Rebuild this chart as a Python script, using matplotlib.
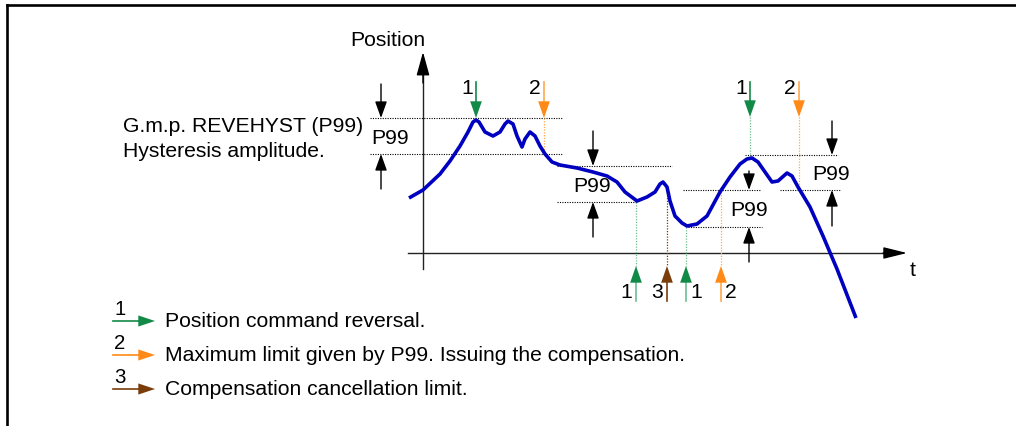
import matplotlib
matplotlib.use('Agg')
import matplotlib.pyplot as plt

plt.rcParams['font.family'] = ['Liberation Sans', 'DejaVu Sans']

# position curve (t, position) in chart units, origin at axis crossing
curve_t = [-1.4, 0.0, 1.7, 2.7, 3.7, 4.5, 5.0, 5.3, 5.6, 6.2, 7.0, 7.7, 8.2, 8.5,
           9.0, 9.4, 9.9, 10.2, 10.7, 11.2, 11.7, 12.2, 12.9, 13.7, 15.4, 17.0,
           18.4, 19.4, 20.2, 21.4, 22.4, 23.2, 23.7, 24.0, 24.4, 24.7, 25.2, 25.9,
           26.4, 27.4, 28.4, 29.7, 30.7, 31.7, 32.4, 32.9, 33.5, 34.2, 34.9, 35.5,
           36.4, 36.9, 37.5, 38.7, 40.0, 41.4, 43.3]
curve_p = [5.5, 6.3, 7.9, 9.2, 10.7, 12.1, 13.1, 13.3, 13.1, 12.1, 11.7, 12.1, 12.9, 13.2,
           12.9, 11.7, 10.6, 11.4, 12.1, 11.7, 10.7, 9.9, 9.1, 8.8, 8.5, 8.1,
           7.7, 7.1, 6.1, 5.2, 5.6, 6.1, 6.9, 7.1, 6.6, 5.2, 3.7, 3.0,
           2.7, 2.9, 3.7, 6.1, 7.6, 8.9, 9.4, 9.5, 9.1, 8.1, 7.1, 7.2,
           8.0, 7.7, 6.6, 4.6, 1.7, -1.6, -6.5]

# P99 bands: x of dimension arrow, upper level, lower level, line span
band_x = [-4.2, 17.0, 32.6, 40.9]
band_hi = [13.5, 8.7, 6.3, 9.8]
band_lo = [9.9, 5.1, 2.6, 6.3]
band_hi_span = [(-5.3, 14.0), (13.4, 24.9), (26.0, 33.7), (32.2, 41.5)]
band_lo_span = [(-5.3, 14.0), (13.4, 21.4), (26.5, 33.9), (35.7, 41.7)]
band_top = [16.9, 12.2, 8.2, 13.2]
band_bot = [6.4, 1.6, -0.9, 2.7]
band_label_xy = [(-3.3, 11.6), (16.9, 6.7), (32.6, 4.3), (40.8, 7.9)]

# event markers: t, kind, label, curve level where the dotted line stops
top_t = [5.3, 12.1, 32.7, 37.6]
top_kind = ['1', '2', '1', '2']
top_level = [13.5, 10.1, 9.5, 6.6]
bot_t = [21.3, 24.4, 26.3, 29.8]
bot_kind = ['1', '3', '1', '2']
bot_level = [5.1, 6.1, 2.6, 6.1]
bot_label_side = [-1, -1, 1, 1]

legend_text = ['Position command reversal.',
               'Maximum limit given by P99. Issuing the compensation.',
               'Compensation cancellation limit.']

head_col = {'1': '#128A47', '2': '#FF8A17', '3': '#7A3D0A'}
shaft_col = {'1': '#6DBE94', '2': '#FFA850', '3': '#7A3D0A'}
curve_col = '#0000C0'
fs = 15.2

fig = plt.figure(figsize=(10.16, 4.27), dpi=100)
ax = fig.add_axes([0, 0, 1, 1])
ax.set_xlim(-42.3, 59.3)
ax.set_ylim(-17.3, 25.4)
ax.axis('off')

# overlay in pixel units for frame, notes and legend
px = fig.add_axes([0, 0, 1, 1])
px.set_xlim(0, 1016)
px.set_ylim(427, 0)
px.axis('off')
px.patch.set_alpha(0)


def arrow(a, x0, y0, x1, y1, color, lw=1.0, hl=1.0, hw=0.36, ms=10):
    a.annotate('', xy=(x1, y1), xytext=(x0, y0),
               arrowprops=dict(arrowstyle=f'-|>,head_length={hl},head_width={hw}',
                               color=color, lw=lw, shrinkA=0, shrinkB=0,
                               mutation_scale=ms))


def dotted(a, xs, ys, color='black', lw=0.8):
    a.plot(xs, ys, color=color, lw=lw, linestyle=(0, (1, 1.2)))


# frame
px.plot([7, 7], [6, 427], color='black', lw=1.9, solid_capstyle='projecting')
px.plot([7, 1015], [6, 6], color='black', lw=1.9, solid_capstyle='projecting')

# axes with arrows
ax.plot([0, 0], [-1.6, 18.0], color='#222222', lw=1.0)
arrow(ax, 0, 17.0, 0, 20.1, 'black', hl=1.45, hw=0.4)
ax.plot([-1.5, 47.0], [0, 0], color='#222222', lw=1.0)
arrow(ax, 46.0, 0, 48.4, 0, 'black', hl=1.45, hw=0.36)
ax.text(0.2, 21.4, 'Position', ha='right', va='center', fontsize=fs)
ax.text(49.0, -1.6, 't', ha='center', va='center', fontsize=fs)

# P99 bands
for i in range(len(band_x)):
    dotted(ax, band_hi_span[i], [band_hi[i]] * 2)
    dotted(ax, band_lo_span[i], [band_lo[i]] * 2)
    arrow(ax, band_x[i], band_top[i], band_x[i], band_hi[i], 'black')
    arrow(ax, band_x[i], band_bot[i], band_x[i], band_lo[i], 'black')
    lx, ly = band_label_xy[i]
    ax.text(lx, ly, 'P99', ha='center', va='center', fontsize=fs)

# top event markers
for t, k, lev in zip(top_t, top_kind, top_level):
    tip = band_hi[0] if t < 20 else 13.6
    if lev < tip:
        dotted(ax, [t, t], [tip, lev], color=shaft_col[k], lw=0.9)
    ax.plot([t, t], [17.1, tip + 1.0], color=head_col[k] if k == '1' else shaft_col[k],
            lw=1.2)
    arrow(ax, t, tip + 1.3, t, tip, head_col[k], lw=0.01, hl=1.2, hw=0.42)
    ax.text(t - 0.9, 16.5, k, ha='center', va='center', fontsize=fs)

# bottom event markers
for t, k, lev, side in zip(bot_t, bot_kind, bot_level, bot_label_side):
    dotted(ax, [t, t], [lev, -1.3], color=shaft_col[k], lw=0.9)
    ax.plot([t, t], [-4.8, -2.3], color=shaft_col[k], lw=1.2)
    arrow(ax, t, -2.6, t, -1.3, head_col[k], lw=0.01, hl=1.2, hw=0.42)
    ax.text(t + side * 1.0, -3.9, k, ha='center', va='center', fontsize=fs)

# curve
ax.plot(curve_t, curve_p, color=curve_col, lw=2.6, solid_joinstyle='round',
        solid_capstyle='butt', zorder=5)

# note on the left
px.text(123, 127, 'G.m.p. REVEHYST (P99)', ha='left', va='center', fontsize=fs)
px.text(123, 152, 'Hysteresis amplitude.', ha='left', va='center', fontsize=fs)

# legend
for i, (k, txt) in enumerate(zip(['1', '2', '3'], legend_text)):
    y = 322 + i * 34
    px.plot([113, 142], [y, y], color=head_col[k], lw=1.2)
    arrow(px, 138, y, 155, y, head_col[k], lw=0.01, hl=1.2, hw=0.4)
    px.text(120, y - 12, k, ha='center', va='center', fontsize=fs - 0.5)
    px.text(165, y, txt, ha='left', va='center', fontsize=fs)

fig.savefig('out.png', dpi=100, facecolor='white')
